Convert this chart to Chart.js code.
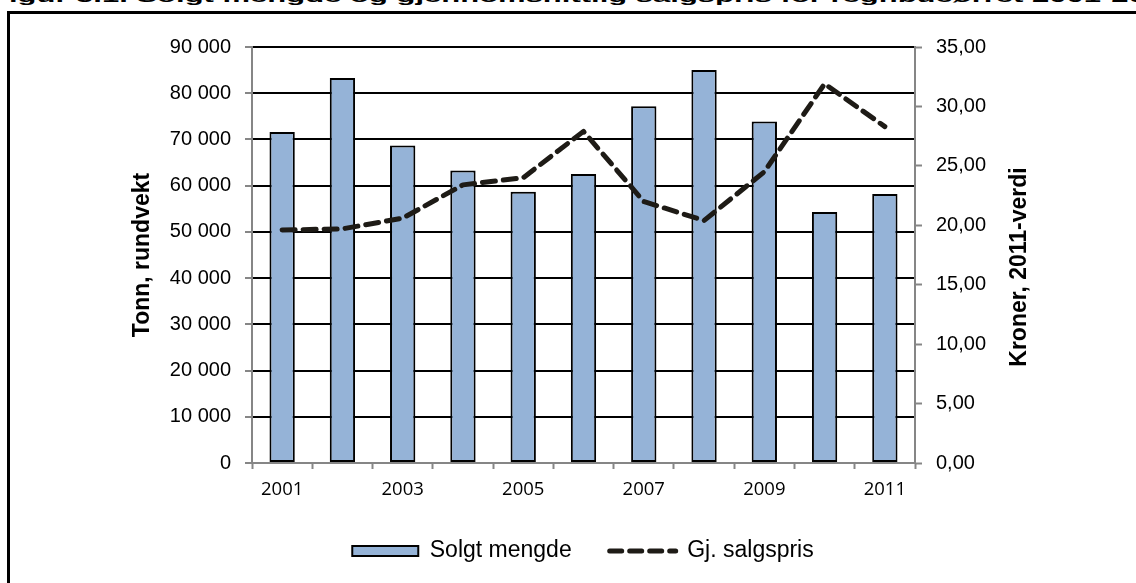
<!DOCTYPE html>
<html><head><meta charset="utf-8">
<script src="https://cdn.jsdelivr.net/npm/chart.js@4.4.0/dist/chart.umd.min.js"></script>
<style>
html,body{margin:0;padding:0;width:1136px;height:583px;overflow:hidden;background:#fff;}
#title{position:absolute;left:-10px;top:-12px;white-space:nowrap;font:bold 31px "Liberation Sans",Arial,sans-serif;line-height:31px;transform:scaleY(0.55);transform-origin:0 0;color:#000;}
#frame{position:absolute;left:7px;top:11px;width:1200px;height:700px;border:3px solid #000;box-sizing:border-box;}
#wrap{position:absolute;left:0;top:0;width:1136px;height:583px;}
</style></head><body>
<div id="title">Figur 5.1. Solgt mengde og gjennomsnittlig salgspris for regnbueørret 2001-2011</div>
<div id="frame"></div>
<div id="wrap"><canvas id="c" width="1136" height="583"></canvas></div>
<script>
const years = ['2001','2002','2003','2004','2005','2006','2007','2008','2009','2010','2011'];
const solgtMengde = [71600, 83300, 68700, 63300, 58700, 62500, 77200, 85000, 73900, 54300, 58200];
const salgspris = [19.6, 19.7, 20.6, 23.4, 24.0, 27.9, 22.0, 20.4, 24.5, 31.9, 28.3];
const seriesNames = ['Solgt mengde', 'Gj. salgspris'];
const axisTitles = ['Tonn, rundvekt', 'Kroner, 2011-verdi'];

const fmtTonn = v => String(v).replace(/\B(?=(\d{3})+(?!\d))/g, ' ');
const fmtKr = v => Number(v).toFixed(2).replace('.', ',');
const gray = '#868686';
const barColor = '#95B3D7';
const lineColor = '#1e1b16';
const FONT = '"Liberation Sans", Arial, sans-serif';

const rightTitle = {
  id: 'rightTitle',
  afterDraw(chart) {
    const s = chart.scales.y1;
    const ctx = chart.ctx;
    ctx.save();
    ctx.translate(s.right - 116, (s.top + s.bottom) / 2 + 12);
    ctx.rotate(-Math.PI / 2);
    ctx.font = 'bold 23px ' + FONT;
    ctx.fillStyle = '#000';
    ctx.textAlign = 'center';
    ctx.textBaseline = 'middle';
    ctx.fillText(axisTitles[1], 0, 0);
    ctx.restore();
  }
};

new Chart(document.getElementById('c'), {
  type: 'bar',
  data: {
    labels: years,
    datasets: [
      { type: 'bar', label: seriesNames[0], data: solgtMengde, yAxisID: 'y',
        backgroundColor: barColor, borderColor: '#000', borderWidth: 2, borderSkipped: false,
        barPercentage: 0.42, categoryPercentage: 1, order: 2 },
      { type: 'line', label: seriesNames[1], data: salgspris, yAxisID: 'y1',
        borderColor: lineColor, backgroundColor: lineColor, borderWidth: 5, borderDash: [13, 8],
        borderCapStyle: 'round', borderJoinStyle: 'round', pointRadius: 0, pointHoverRadius: 0,
        tension: 0, fill: false, order: 1 }
    ]
  },
  options: {
    responsive: false,
    animation: false,
    layout: { padding: { left: 30, right: 0, top: 47, bottom: 10.5 } },
    plugins: {
      title: { display: false },
      tooltip: { enabled: false },
      legend: {
        position: 'bottom',
        labels: {
          usePointStyle: true, pointStyleWidth: 66, boxHeight: 10, padding: 38,
          color: '#000', font: { family: FONT, size: 23 },
          sort: (a, b) => a.datasetIndex - b.datasetIndex,
          generateLabels(chart) {
            const items = Chart.defaults.plugins.legend.labels.generateLabels(chart);
            items.forEach(it => {
              if (it.datasetIndex === 0) {
                it.pointStyle = 'rect'; it.lineWidth = 2; it.strokeStyle = '#000';
                it.fillStyle = barColor; it.lineDash = [];
              } else {
                it.pointStyle = 'line'; it.lineWidth = 5; it.lineDash = [12, 8];
                it.lineCap = 'round'; it.strokeStyle = lineColor;
              }
            });
            return items;
          }
        }
      }
    },
    scales: {
      x: {
        offset: true,
        grid: { offset: true, drawOnChartArea: false, drawTicks: true, tickLength: 6, tickColor: gray, tickWidth: 2 },
        border: { color: gray, width: 2 },
        ticks: { autoSkip: false, maxRotation: 0, minRotation: 0, padding: 10, color: '#000',
                 font: { family: '"Open Sans", sans-serif', size: 18.5 },
                 callback: (v, i) => (i % 2 === 0 ? years[i] : '') },
        afterFit(s) { s.height = 38.5; }
      },
      y: {
        position: 'left', min: 0, max: 90000,
        ticks: { stepSize: 10000, padding: 14, color: '#000', font: { family: FONT, size: 20 }, callback: fmtTonn },
        grid: { color: c => (c.tick && c.tick.value === 0 ? gray : '#000'), lineWidth: 2,
                tickLength: 7, tickColor: gray, tickWidth: 2 },
        border: { color: gray, width: 2 },
        title: { display: true, text: axisTitles[0], color: '#000',
                 font: { family: FONT, size: 23, weight: 'bold' }, padding: { top: 99, bottom: 0 } },
        afterFit(s) { s.width = 222; }
      },
      y1: {
        position: 'right', min: 0, max: 35,
        ticks: { stepSize: 5, padding: 14, color: '#000', font: { family: FONT, size: 20 }, callback: fmtKr },
        grid: { drawOnChartArea: false, tickLength: 7, tickColor: gray, tickWidth: 2 },
        border: { color: gray, width: 2 },
        afterFit(s) { s.width = 221; }
      }
    }
  },
  plugins: [rightTitle]
});
</script>
</body></html>
